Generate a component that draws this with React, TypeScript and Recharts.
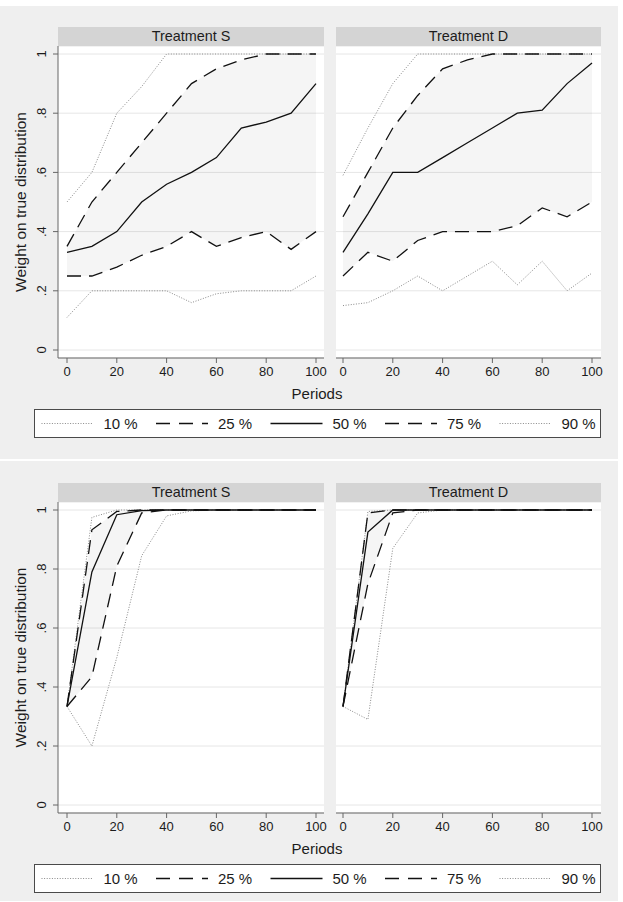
import { ComposedChart, Line, Area, XAxis, YAxis, CartesianGrid } from "recharts";

// periods on the x axis (data every 10 periods)
const periods = [0, 10, 20, 30, 40, 50, 60, 70, 80, 90, 100];
const xTicks = [0, 20, 40, 60, 80, 100];
const yTicks = [0, 0.2, 0.4, 0.6, 0.8, 1];
const panelTitles = ["Treatment S", "Treatment D"];
const legendLabels = ["10 %", "25 %", "50 %", "75 %", "90 %"];

// top figure, treatment S
const topS10 = [0.11, 0.2, 0.2, 0.2, 0.2, 0.16, 0.19, 0.2, 0.2, 0.2, 0.25];
const topS25 = [0.25, 0.25, 0.28, 0.32, 0.35, 0.4, 0.35, 0.38, 0.4, 0.34, 0.4];
const topS50 = [0.33, 0.35, 0.4, 0.5, 0.56, 0.6, 0.65, 0.75, 0.77, 0.8, 0.9];
const topS75 = [0.35, 0.5, 0.6, 0.7, 0.8, 0.9, 0.95, 0.98, 1, 1, 1];
const topS90 = [0.5, 0.6, 0.8, 0.89, 1, 1, 1, 1, 1, 1, 1];

// top figure, treatment D
const topD10 = [0.15, 0.16, 0.2, 0.25, 0.2, 0.25, 0.3, 0.22, 0.3, 0.2, 0.26];
const topD25 = [0.25, 0.33, 0.3, 0.37, 0.4, 0.4, 0.4, 0.42, 0.48, 0.45, 0.5];
const topD50 = [0.33, 0.46, 0.6, 0.6, 0.65, 0.7, 0.75, 0.8, 0.81, 0.9, 0.97];
const topD75 = [0.45, 0.6, 0.75, 0.86, 0.95, 0.98, 1, 1, 1, 1, 1];
const topD90 = [0.59, 0.75, 0.9, 1, 1, 1, 1, 1, 1, 1, 1];

// bottom figure, treatment S
const botS10 = [0.334, 0.2, 0.5, 0.845, 0.98, 0.997, 1, 1, 1, 1, 1];
const botS25 = [0.334, 0.435, 0.81, 0.99, 1, 1, 1, 1, 1, 1, 1];
const botS50 = [0.334, 0.79, 0.984, 0.998, 1, 1, 1, 1, 1, 1, 1];
const botS75 = [0.334, 0.933, 0.995, 1, 1, 1, 1, 1, 1, 1, 1];
const botS90 = [0.334, 0.975, 1, 1, 1, 1, 1, 1, 1, 1, 1];

// bottom figure, treatment D
const botD10 = [0.334, 0.29, 0.87, 0.99, 1, 1, 1, 1, 1, 1, 1];
const botD25 = [0.334, 0.75, 0.99, 1, 1, 1, 1, 1, 1, 1, 1];
const botD50 = [0.334, 0.925, 1, 1, 1, 1, 1, 1, 1, 1, 1];
const botD75 = [0.334, 0.99, 1, 1, 1, 1, 1, 1, 1, 1, 1];
const botD90 = [0.334, 0.995, 1, 1, 1, 1, 1, 1, 1, 1, 1];

const FONT = "'Liberation Sans', Arial, sans-serif";
const INK = "#1c1c1c";
const AXIS = "#666";

const build = (p10: number[], p25: number[], p50: number[], p75: number[], p90: number[]) =>
  periods.map((x, i) => ({ x, p10: p10[i], p25: p25[i], p50: p50[i], p75: p75[i], p90: p90[i], band: [p25[i], p75[i]] }));

const fmtY = (v: number) => (v === 0 ? "0" : v === 1 ? "1" : String(v).replace(/^0/, ""));

const YTick = (props: any) => {
  const { y, payload } = props;
  return (
    <text x={41.7} y={y} transform={`rotate(-90 41.7 ${y})`} textAnchor="middle" dominantBaseline="central" fontSize={13} fill={INK} fontFamily={FONT}>
      {fmtY(payload.value)}
    </text>
  );
};

const XTick = (props: any) => {
  const { x, y, payload } = props;
  return (
    <text x={x} y={y + 6} textAnchor="middle" dominantBaseline="central" fontSize={13} fill={INK} fontFamily={FONT}>
      {payload.value}
    </text>
  );
};

const dotted = { stroke: "#8a8a8a", strokeWidth: 1, strokeDasharray: "1 1.6" };
const dashed = { stroke: "#111", strokeWidth: 1.3, strokeDasharray: "14 8" };
const solid = { stroke: "#111", strokeWidth: 1.3 };

// extra room on the right so the "100" tick label is not clipped
const SPARE = 16;

function Panel({ rows, left, top, width, plotH, showY }: any) {
  return (
    <div style={{ position: "absolute", left, top }}>
      <ComposedChart width={width + SPARE} height={plotH + 30} data={rows} margin={{ top: 0, right: SPARE, bottom: 0, left: 0 }}>
        <CartesianGrid vertical={false} stroke="#e6e6e6" fill="#fff" />
        <XAxis
          type="number"
          dataKey="x"
          domain={[0, 100]}
          ticks={xTicks}
          interval={0}
          padding={{ left: showY ? 9 : 7, right: showY ? 8 : 9 }}
          height={30}
          tickSize={5}
          tickMargin={2}
          stroke={AXIS}
          tick={<XTick />}
        />
        <YAxis
          type="number"
          domain={[0, 1]}
          ticks={yTicks}
          interval={0}
          padding={{ top: 8, bottom: 8 }}
          width={showY ? 58 : 0}
          hide={!showY}
          tickSize={5}
          stroke={AXIS}
          tick={<YTick />}
        />
        <Area type="linear" dataKey="band" stroke="none" fill="#000" fillOpacity={0.04} isAnimationActive={false} />
        <Line type="linear" dataKey="p10" {...dotted} dot={false} activeDot={false} isAnimationActive={false} />
        <Line type="linear" dataKey="p90" {...dotted} dot={false} activeDot={false} isAnimationActive={false} />
        <Line type="linear" dataKey="p25" {...dashed} dot={false} activeDot={false} isAnimationActive={false} />
        <Line type="linear" dataKey="p75" {...dashed} dot={false} activeDot={false} isAnimationActive={false} />
        <Line type="linear" dataKey="p50" {...solid} dot={false} activeDot={false} isAnimationActive={false} />
      </ComposedChart>
    </div>
  );
}

function LegendBox({ top }: { top: number }) {
  const styles = [dotted, dashed, solid, dashed, dotted];
  return (
    <div style={{ position: "absolute", left: 34, top, width: 567, height: 29, border: "1px solid #4a4a4a", background: "#fff", boxSizing: "border-box" }}>
      <svg width={565} height={27}>
        {legendLabels.map((lab, i) => {
          const x0 = 6.5 + i * 114.5;
          const st = styles[i];
          return (
            <g key={lab}>
              <line x1={x0} x2={x0 + 52} y1={13.5} y2={13.5} {...st} strokeDasharray={st === dashed ? "14 9" : (st as any).strokeDasharray} />
              <text x={x0 + 62} y={13.5} dominantBaseline="central" fontSize={15} fill={INK} fontFamily={FONT}>
                {lab}
              </text>
            </g>
          );
        })}
      </svg>
    </div>
  );
}

function Figure({ top, height, plotTop, plotH, left, right }: any) {
  const axisY = plotTop + plotH;
  const header = (x: number, w: number, title: string) => (
    <div
      style={{
        position: "absolute", left: x, top: plotTop - 19.5, width: w, height: 19.5, background: "#d4d4d4",
        fontFamily: FONT, fontSize: 14.4, color: INK, textAlign: "center", lineHeight: "19.5px",
      }}
    >
      {title}
    </div>
  );
  return (
    <>
      <div style={{ position: "absolute", left: 0, top, width: 618, height, background: "#efefef" }} />
      {header(58, 266, panelTitles[0])}
      {header(336, 265, panelTitles[1])}
      <Panel rows={left} left={0} top={plotTop} width={324} plotH={plotH} showY />
      <Panel rows={right} left={336} top={plotTop} width={265} plotH={plotH} showY={false} />
      <svg style={{ position: "absolute", left: 0, top: plotTop }} width={40} height={plotH}>
        <text
          x={20}
          y={plotH / 2}
          transform={`rotate(-90 20 ${plotH / 2})`}
          textAnchor="middle"
          dominantBaseline="central"
          fontSize={15.5}
          fill={INK}
          fontFamily={FONT}
        >
          Weight on true distribution
        </text>
      </svg>
      <div style={{ position: "absolute", left: 217, width: 200, top: axisY + 26, height: 20, textAlign: "center", fontFamily: FONT, fontSize: 15, color: INK, lineHeight: "20px" }}>
        Periods
      </div>
      <LegendBox top={axisY + 50.7} />
    </>
  );
}

export default function App() {
  return (
    <div style={{ position: "absolute", left: 0, top: 0, width: 623, height: 902, background: "#fff", overflow: "hidden" }}>
      <Figure top={6} height={453} plotTop={46} plotH={312} left={build(topS10, topS25, topS50, topS75, topS90)} right={build(topD10, topD25, topD50, topD75, topD90)} />
      <Figure top={461} height={440} plotTop={502} plotH={311} left={build(botS10, botS25, botS50, botS75, botS90)} right={build(botD10, botD25, botD50, botD75, botD90)} />
    </div>
  );
}
